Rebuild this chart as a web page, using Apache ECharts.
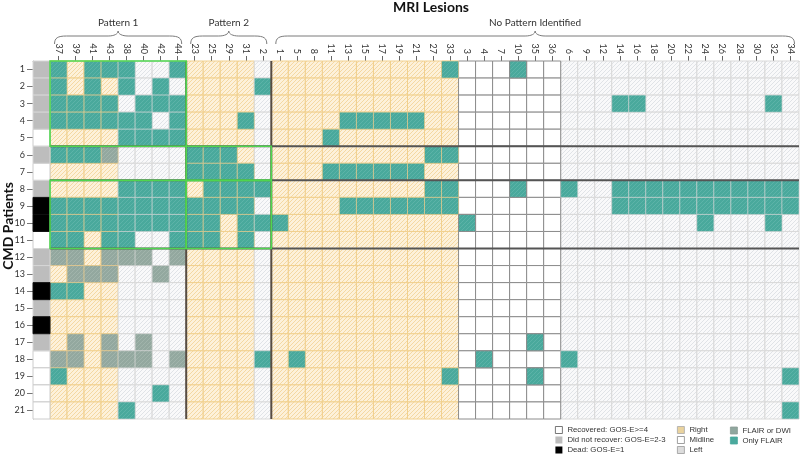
<!DOCTYPE html>
<html><head><meta charset="utf-8">
<script src="https://cdn.jsdelivr.net/npm/echarts@6/dist/echarts.min.js"></script>
<style>html,body{margin:0;padding:0;background:#fff}#c{width:800px;height:454px}</style>
</head><body><div id="c"></div>
<script>
// ---------- data ----------
const lesionLabels = ['37','39','41','43','38','40','42','44',
  '23','25','29','31','2',
  '1','5','8','11','13','15','17','19','21','27','33',
  '3','4','7','10','35','36',
  '6','9','12','14','16','18','20','22','24','26','28','30','32','34'];
const lesionSide = ['Right','Right','Right','Right','Left','Left','Left','Left',
  'Right','Right','Right','Right','Left',
  'Right','Right','Right','Right','Right','Right','Right','Right','Right','Right','Right',
  'Midline','Midline','Midline','Midline','Midline','Midline',
  'Left','Left','Left','Left','Left','Left','Left','Left','Left','Left','Left','Left','Left','Left'];
const groupNames = ['Pattern 1', 'Pattern 2', 'No Pattern Identified'];
const groupSizes = [8, 5, 31];
const patientLabels = ['1','2','3','4','5','6','7','8','9','10','11','12','13','14','15','16','17','18','19','20','21'];
const outcomeNames = {R: 'Recovered: GOS-E>=4', N: 'Did not recover: GOS-E=2-3', D: 'Dead: GOS-E=1'};
const patientOutcome = ['N','N','N','N','R','N','R','N','D','D','R','N','N','D','N','D','N','R','R','R','R'];
// g = FLAIR or DWI, t = Only FLAIR, . = none (groups: P1 | P2 | NP right | NP midline | NP left)
const lesionRows = [
  "t.ttt..t ..... ..........t ...t.. ..............",
  "t.t.t.t. ....t ........... ...... ..............",
  "tttt.ttt ..... ........... ...... ...tt.......t.",
  "tttttt.t ...t. ....ttttt.. ...... ..............",
  "....tttt ..... ...t....... ...... ..............",
  "tttg.... ttt.. .........tt ...... ..............",
  "........ tttt. ...tttttt.. ...... ..............",
  "....tttt .tttt .........tt ...t.. t..ttttttttttt",
  "tttttttt tttt. ....ttttttt ...... ...ttttttttttt",
  "tttttttt tt.tt t.......... t..... ........t...t.",
  "tt.tt..t tt.t. ........... ...... ..............",
  "gg.ggg.g ..... ........... ...... ..............",
  ".ggg..g. ..... ........... ...... ..............",
  "tt...... ..... ........... ...... ..............",
  "........ ..... ........... ...... ..............",
  "........ ..... ........... ...... ..............",
  ".g.g.g.. ..... ........... ....t. ..............",
  "gg.ggg.g ....t .t......... .t.... t.............",
  "t....... ..... ..........t ....t. .............t",
  "......t. ..... ........... ...... ..............",
  "....t... ..... ........... ...... .............t"
];
const boxes = [ // [firstGroup, lastGroup, firstRow, lastRow] highlighted blocks
  [0, 0, 1, 5], [1, 1, 6, 7], [0, 0, 8, 11], [1, 1, 8, 11]
];
const separatorRows = [5, 7, 11];

// ---------- helpers ----------
function hatch(bg, line) {
  const s = 4, c = document.createElement('canvas');
  c.width = s; c.height = s;
  const ctx = c.getContext('2d');
  ctx.fillStyle = bg; ctx.fillRect(0, 0, s, s);
  ctx.strokeStyle = line; ctx.lineWidth = 0.9;
  ctx.beginPath();
  ctx.moveTo(0, s); ctx.lineTo(s, 0);
  ctx.moveTo(-1, 1); ctx.lineTo(1, -1);
  ctx.moveTo(s - 1, s + 1); ctx.lineTo(s + 1, s - 1);
  ctx.stroke();
  return {image: c, repeat: 'repeat'};
}
const sideStyle = {
  Right:   {fill: hatch('#fdf1da', '#f3d59c'), stroke: '#f1d08e', over: 'rgba(238,205,140,0.6)', legend: '#ead39e'},
  Midline: {fill: '#ffffff', stroke: '#8c8c8c', over: '#8c8c8c', legend: '#ffffff'},
  Left:    {fill: hatch('#f9f9fa', '#dde0e4'), stroke: '#d9d9d9', over: 'rgba(215,215,215,0.55)', legend: '#dcdcdc'}
};
const lesionStyle = {
  g: {name: 'FLAIR or DWI', fill: hatch('#93a89f', '#a3b5ad'), legend: '#8fa79e'},
  t: {name: 'Only FLAIR', fill: hatch('#49a99c', '#5fb4a9'), legend: '#4aa99d'}
};
const outcomeStyle = {
  R: {fill: '#ffffff', stroke: '#cccccc'},
  N: {fill: '#bdbdbd', stroke: '#d6d6d6'},
  D: {fill: '#000000', stroke: '#111111'}
};

const xCats = [''].concat(lesionLabels);

function rectCell(api, style) {
  const c = api.coord([api.value(0), api.value(1)]);
  const s = api.size([1, 1]);
  return {type: 'rect', shape: {x: c[0] - s[0] / 2, y: c[1] - s[1] / 2, width: s[0], height: s[1]}, style: style};
}

const series = [];
['Right', 'Left', 'Midline'].forEach(side => {
  const data = [];
  lesionLabels.forEach((l, k) => {
    if (lesionSide[k] !== side) return;
    patientLabels.forEach((p, j) => data.push([k + 1, j]));
  });
  const st = sideStyle[side];
  series.push({
    name: side, type: 'custom', data: data, encode: {x: 0, y: 1},
    itemStyle: {color: st.legend},
    renderItem: (params, api) => rectCell(api, {fill: st.fill, stroke: st.stroke, lineWidth: 1})
  });
});
['g', 't'].forEach(code => {
  const data = [];
  lesionRows.forEach((row, j) => {
    const cells = row.replace(/ /g, '');
    for (let k = 0; k < cells.length; k++) if (cells[k] === code) data.push([k + 1, j, k]);
  });
  const ls = lesionStyle[code];
  series.push({
    name: ls.name, type: 'custom', data: data, encode: {x: 0, y: 1},
    itemStyle: {color: ls.legend},
    renderItem: (params, api) => rectCell(api, {fill: ls.fill, stroke: sideStyle[lesionSide[api.value(2)]].over, lineWidth: 1})
  });
});
['R', 'N', 'D'].forEach(code => {
  const data = [];
  patientOutcome.forEach((o, j) => { if (o === code) data.push([0, j]); });
  const os = outcomeStyle[code];
  series.push({
    name: outcomeNames[code], type: 'custom', data: data, encode: {x: 0, y: 1},
    itemStyle: {color: os.fill},
    renderItem: (params, api) => rectCell(api, {fill: os.fill, stroke: os.stroke, lineWidth: 1})
  });
});

const legendText = {fontSize: 7.8, color: '#333', fontFamily: 'Liberation Sans'};
const legendBase = {orient: 'vertical', padding: 0, itemWidth: 7, itemHeight: 7, itemGap: 2, icon: 'rect', top: 'auto', bottom: 0, textStyle: legendText, selectedMode: false};
const bordered = c => ({borderColor: c, borderWidth: 0.8});

const chart = echarts.init(document.getElementById('c'), null, {renderer: 'canvas'});
chart.setOption({
  animation: false,
  grid: {left: 33, right: 1, top: 61, bottom: 35},
  xAxis: {
    type: 'category', position: 'top', data: xCats,
    axisLine: {show: true, lineStyle: {color: '#aaa'}},
    axisTick: {show: true, alignWithLabel: true, length: 5, lineStyle: {color: '#666'}, interval: (i) => i > 0},
    axisLabel: {interval: 0, rotate: 90, margin: 7, fontSize: 9, color: '#333', fontFamily: 'Lato'},
    splitLine: {show: false}
  },
  yAxis: {
    type: 'category', inverse: true, data: patientLabels,
    axisLine: {show: true, lineStyle: {color: '#aaa'}},
    axisTick: {show: true, alignWithLabel: true, length: 6, lineStyle: {color: '#777'}},
    axisLabel: {interval: 0, margin: 8, fontSize: 9, color: '#333', fontFamily: 'Lato'},
    splitLine: {show: false}
  },
  legend: [
    Object.assign({}, legendBase, {left: 555, data: [
      {name: outcomeNames.R, itemStyle: bordered('#555')},
      {name: outcomeNames.N}, {name: outcomeNames.D}]}),
    Object.assign({}, legendBase, {left: 677, data: [
      {name: 'Right', itemStyle: bordered('#aaa')},
      {name: 'Midline', itemStyle: bordered('#888')},
      {name: 'Left', itemStyle: bordered('#999')}]}),
    Object.assign({}, legendBase, {left: 730, bottom: 9.5, data: [
      {name: 'FLAIR or DWI', itemStyle: bordered('#8a9a94')},
      {name: 'Only FLAIR', itemStyle: bordered('#4aa99d')}]})
  ],
  series: series
});

// ---------- annotations computed from the axes ----------
const p = (x, y) => chart.convertToPixel({gridIndex: 0}, [x, y]);
const p0 = p(0, 0), p1 = p(1, 1);
const w = p1[0] - p0[0], h = p1[1] - p0[1];
const bx = i => p0[0] + (i - 0.5) * w;
const by = j => p0[1] + (j - 0.5) * h;
const cx = k => p0[0] + (k + 1) * w;
const groupStart = [];
let acc = 0;
groupSizes.forEach(s => { groupStart.push(acc); acc += s; });

const g = [];
const braceStyle = {fill: 'none', stroke: '#7a7a7a', lineWidth: 1};
function bez(a, b, c1, c2) {
  return {type: 'bezierCurve', z: 100, shape: {x1: a[0], y1: a[1], x2: b[0], y2: b[1], cpx1: c1[0], cpy1: c1[1], cpx2: c2[0], cpy2: c2[1]}, style: braceStyle};
}
function seg(a, b, style) {
  return {type: 'line', z: 100, shape: {x1: a[0], y1: a[1], x2: b[0], y2: b[1]}, style: style};
}
groupNames.forEach((name, gi) => {
  const s = groupStart[gi], e = s + groupSizes[gi] - 1;
  const x1 = cx(s) - 4, x2 = cx(e) + 4, xm = (cx(s) + cx(e)) / 2;
  g.push(bez([x1, 44], [x1 + 12, 36], [x1, 38], [x1 + 3, 36]));
  g.push(seg([x1 + 12, 36], [xm - 10, 36], braceStyle));
  g.push(bez([xm - 10, 36], [xm, 31], [xm - 4, 36], [xm, 34]));
  g.push(bez([xm, 31], [xm + 10, 36], [xm, 34], [xm + 4, 36]));
  g.push(seg([xm + 10, 36], [x2 - 12, 36], braceStyle));
  g.push(bez([x2 - 12, 36], [x2, 44], [x2 - 3, 36], [x2, 38]));
  g.push({type: 'text', z: 100, x: xm, y: 23, style: {text: name, fontSize: 10, fontFamily: 'Lato', fill: '#333', align: 'center', verticalAlign: 'middle'}});
});
g.push({type: 'text', z: 100, x: 431, y: 7, style: {text: 'MRI Lesions', fontSize: 14, fontWeight: 'bold', fontFamily: 'Lato', fill: '#111', align: 'center', verticalAlign: 'middle'}});
g.push({type: 'text', z: 100, x: 8, y: 226, rotation: Math.PI / 2, style: {text: 'CMD Patients', fontSize: 14, fontWeight: 'bold', fontFamily: 'Lato', fill: '#111', align: 'center', verticalAlign: 'middle'}});

const nR = patientLabels.length, nX = xCats.length;
const darkStyle = {stroke: '#555', lineWidth: 2};
separatorRows.forEach(r => g.push(seg([bx(1), by(r)], [bx(nX), by(r)], darkStyle)));
[groupStart[1], groupStart[2]].forEach(k => g.push(seg([bx(k + 1), by(0)], [bx(k + 1), by(nR)], {stroke: '#574c42', lineWidth: 2})));
boxes.forEach(b => {
  const xa = bx(groupStart[b[0]] + 1), xb = bx(groupStart[b[1]] + groupSizes[b[1]] + 1);
  const ya = by(b[2] - 1), yb = by(b[3]);
  g.push({type: 'rect', z: 101, shape: {x: xa, y: ya, width: xb - xa, height: yb - ya}, style: {fill: 'none', stroke: '#4fd64f', lineWidth: 1.6}});
});
chart.setOption({graphic: {elements: g}});
</script>
</body></html>
